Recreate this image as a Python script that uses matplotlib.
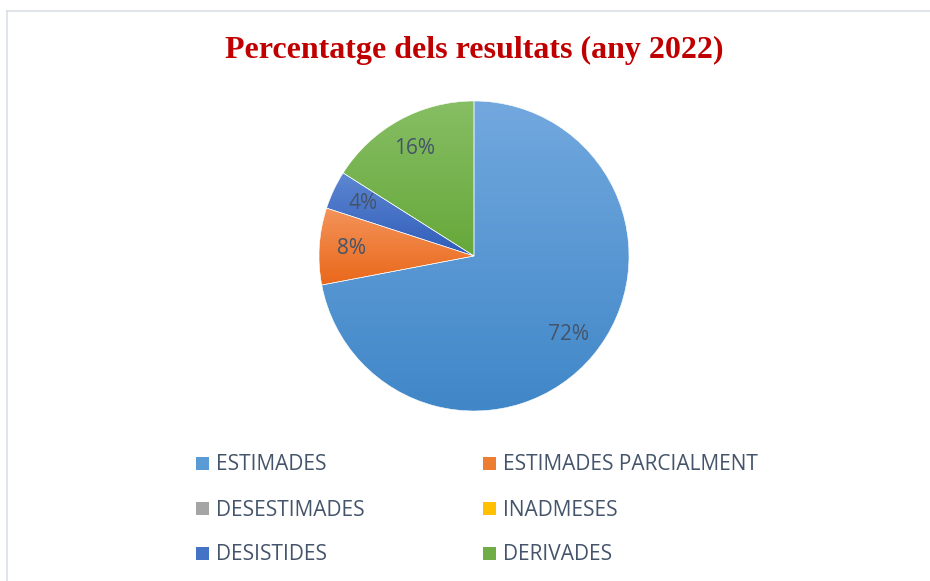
import matplotlib
matplotlib.use("Agg")
import matplotlib.pyplot as plt
import numpy as np
from matplotlib.colors import LinearSegmentedColormap
from matplotlib.patches import Rectangle
from matplotlib.lines import Line2D

categories = ["ESTIMADES", "ESTIMADES PARCIALMENT", "DESESTIMADES",
              "INADMESES", "DESISTIDES", "DERIVADES"]
values = [72, 8, 0, 0, 4, 16]
title = "Percentatge dels resultats (any 2022)"

top_colors = ["#72A8DE", "#F4935A", "#B0B0B0", "#FFCA28", "#5E88D2", "#87BE64"]
bot_colors = ["#4087C8", "#E9681A", "#999999", "#F2B800", "#2F5CBA", "#66A83A"]
mid_colors = ["#5B9BD5", "#ED7D31", "#A5A5A5", "#FFC000", "#4472C4", "#70AD47"]
text_color = "#44546A"
font = "Open Sans"

W, H = 930, 581
fig = plt.figure(figsize=(W / 100, H / 100), dpi=100)
fig.patch.set_facecolor("white")

# chart area border
fig.add_artist(Line2D([7 / W, 7 / W], [0, 1 - 11 / H], transform=fig.transFigure,
                      color="#D9E0E8", lw=1.2))
fig.add_artist(Line2D([7 / W, 1], [1 - 11 / H, 1 - 11 / H], transform=fig.transFigure,
                      color="#D9E0E8", lw=1.2))

cx, cy, r = 474, 256, 155
ax = fig.add_axes([(cx - r) / W, (H - cy - r) / H, 2 * r / W, 2 * r / H])
ax.axis("off")

wedges, texts, autotexts = ax.pie(
    values, startangle=90, counterclock=False, radius=1,
    colors=mid_colors,
    autopct=lambda p: f"{p:.0f}%" if p > 0.5 else "",
    pctdistance=0.79,
    wedgeprops=dict(edgecolor="white", linewidth=0.4),
    textprops=dict(color=text_color, fontsize=15, family=font),
)
ax.set_xlim(-1, 1)
ax.set_ylim(-1, 1)

for w, tc, bc, v in zip(wedges, top_colors, bot_colors, values):
    if v <= 0:
        continue
    ext = w.get_path().get_extents()
    cmap = LinearSegmentedColormap.from_list("g", [bc, tc])
    grad = np.linspace(0, 1, 256).reshape(-1, 1)
    im = ax.imshow(grad, cmap=cmap, origin="lower", aspect="auto",
                   extent=[ext.x0, ext.x1, ext.y0, ext.y1], zorder=w.get_zorder(),
                   interpolation="bilinear")
    im.set_clip_path(w)
    w.set_facecolor("none")
    w.set_zorder(w.get_zorder() + 0.1)
for t in autotexts:
    t.set_zorder(10)

fig.text(474 / W, 1 - 50 / H, title, ha="center", va="center",
         fontsize=23, fontweight="bold", color="#C00000",
         family="Liberation Serif")

# legend (row-wise, two columns)
col_x = [196, 483]
row_y = [463, 508, 553]
sq = 13
for i, (lab, c, tc, bc) in enumerate(zip(categories, mid_colors, top_colors, bot_colors)):
    row, col = divmod(i, 2)
    x = col_x[col]
    y = row_y[row]
    fig.add_artist(Rectangle((x / W, (H - y - sq / 2) / H), sq / W, sq / H,
                             transform=fig.transFigure, facecolor=c, edgecolor="none"))
    fig.text((x + sq + 7) / W, (H - y - 2) / H, lab, ha="left", va="center",
             fontsize=15, color=text_color, family=font)

fig.savefig("out.png", dpi=100)
